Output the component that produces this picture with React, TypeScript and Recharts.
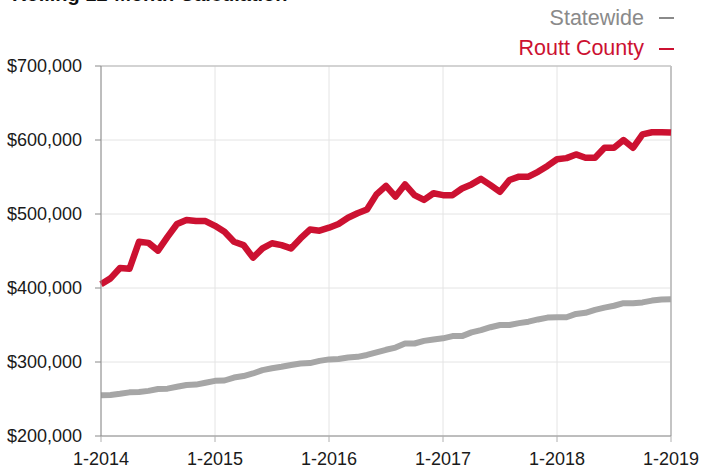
import React from "react";
import {
  LineChart,
  Line,
  XAxis,
  YAxis,
  CartesianGrid,
  ReferenceLine,
} from "recharts";

const years = [2014, 2015, 2016, 2017, 2018, 2019];

// monthly labels "1-2014" ... "1-2019"
const months: string[] = [];
years.forEach((y) => {
  for (let m = 1; m <= 12; m++) {
    if (y === 2019 && m > 1) break;
    months.push(`${m}-${y}`);
  }
});

const statewide = [
  255000, 255500, 257000, 259000, 259500, 261000, 263500, 264000, 266500, 269000, 269500, 272000,
  274500, 275000, 279000, 281000, 284500, 289000, 291500, 293500, 296000, 298000, 298500, 301500,
  303500, 304000, 306000, 307000, 309500, 313000, 316500, 319500, 325000, 325000, 328500, 330500,
  332000, 335000, 335000, 340000, 343000, 347000, 350000, 350000, 352500, 354500, 357500, 360000,
  360500, 360500, 365000, 366500, 370500, 373500, 376000, 379500, 379500, 380500, 383000, 384500,
  384700,
];

const routt = [
  405000, 413000, 427000, 426000, 462500, 461000, 450500, 469000, 486500, 492000, 490500, 490500,
  484000, 476000, 462500, 458000, 441000, 453500, 460500, 458000, 453500, 467000, 479000, 477500,
  481500, 486500, 495000, 501000, 506000, 526500, 538000, 523500, 540000, 525500, 519000, 528000,
  525500, 525500, 534500, 540000, 547500, 539000, 530000, 546000, 550500, 550500, 557000, 565000,
  574000, 575500, 580500, 576000, 576000, 589500, 589500, 600000, 589500, 607500, 610500, 610500,
  610000,
];

const yTicks = [200000, 300000, 400000, 500000, 600000, 700000];
const xTicks = [0, 12, 24, 36, 48, 60];

const data = months.map((label, i) => ({
  idx: i,
  label,
  statewide: statewide[i],
  routt: routt[i],
}));

const FONT = '"Liberation Sans", Arial, Helvetica, sans-serif';
const RED = "#cc1131";
const GRAY = "#a6a6a6";

const App = () => {
  return (
    <div
      style={{
        position: "absolute",
        top: 0,
        left: 0,
        width: 701,
        height: 468,
        background: "#fff",
        fontFamily: FONT,
        overflow: "hidden",
      }}
    >
      <LineChart
        width={701}
        height={468}
        data={data}
        margin={{ top: 66, right: 30, bottom: 7, left: 0 }}
      >
        <CartesianGrid stroke="#e4e4e4" strokeWidth={1} />
        <XAxis
          type="number"
          dataKey="idx"
          domain={[0, 60]}
          ticks={xTicks}
          tickFormatter={(v: number) => months[v]}
          height={25}
          tickSize={6}
          tickMargin={10}
          axisLine={{ stroke: "#8a8a8a" }}
          tickLine={{ stroke: "#b0b0b0" }}
          tick={{ fill: "#1a1a1a", fontSize: 18, fontFamily: FONT }}
        />
        <YAxis
          domain={[200000, 700000]}
          ticks={yTicks}
          width={101}
          tickSize={6}
          tickMargin={13}
          tickFormatter={(v: number) => `$${v.toLocaleString("en-US")}`}
          axisLine={{ stroke: "#8a8a8a" }}
          tickLine={{ stroke: "#8a8a8a" }}
          tick={{ fill: "#1a1a1a", fontSize: 18, fontFamily: FONT }}
        />
        <ReferenceLine y={700000} stroke="#b5b5b5" strokeWidth={1} />
        <ReferenceLine x={60} stroke="#c4c4c4" strokeWidth={2} />
        <Line
          type="linear"
          dataKey="statewide"
          stroke={GRAY}
          strokeWidth={6}
          strokeLinejoin="round"
          dot={false}
          isAnimationActive={false}
        />
        <Line
          type="linear"
          dataKey="routt"
          stroke={RED}
          strokeWidth={6.5}
          strokeLinejoin="round"
          dot={false}
          isAnimationActive={false}
        />
      </LineChart>
      <svg
        width={701}
        height={468}
        style={{ position: "absolute", top: 0, left: 0, pointerEvents: "none" }}
      >
        {/* title is cropped at the top edge in the source image */}
        <text x={12} y={1} fontSize={20} fontWeight="bold" fill="#111" fontFamily={FONT}>
          Rolling 12-Month Calculation
        </text>
        <text x={644} y={25} fontSize={21.5} fill="#8a8a8a" textAnchor="end" fontFamily={FONT}>
          Statewide
        </text>
        <rect x={659} y={17} width={15} height={2} fill="#8a8a8a" />
        <text x={644} y={55} fontSize={21.5} fill={RED} textAnchor="end" fontFamily={FONT}>
          Routt County
        </text>
        <rect x={659} y={48} width={15} height={2} fill={RED} />
      </svg>
    </div>
  );
};

export default App;
